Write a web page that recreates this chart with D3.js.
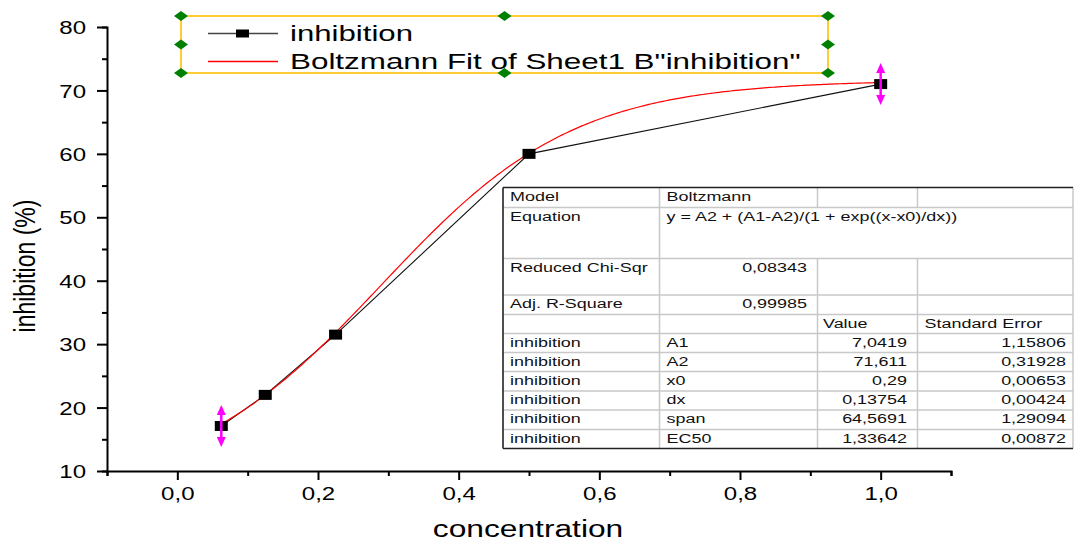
<!DOCTYPE html>
<html>
<head>
<meta charset="utf-8">
<script src="https://cdn.jsdelivr.net/npm/d3@7"></script>
<style>
  html, body { margin: 0; padding: 0; background: #fff; }
  svg { display: block; font-family: Arial, "Liberation Sans", sans-serif; }
</style>
</head>
<body>
<svg id="chart" width="1074" height="545"></svg>
<script>
// Measured data: inhibition (%) against concentration
const concentration = [0.0625, 0.125, 0.225, 0.5, 1.0];
const inhibition = [17.1, 22.0, 31.5, 60.0, 71.0];

// Boltzmann fit results
const paramNames = ["A1", "A2", "x0", "dx", "span", "EC50"];
const paramValues = [7.0419, 71.611, 0.29, 0.13754, 64.5691, 1.33642];
const paramErrors = [1.15806, 0.31928, 0.00653, 0.00424, 1.29094, 0.00872];
const reducedChiSqr = 0.08343;
const adjRSquare = 0.99985;
const modelName = "Boltzmann";
const equationText = "y = A2 + (A1-A2)/(1 + exp((x-x0)/dx))";

// Axis ticks
const xMajorTicks = [0.0, 0.2, 0.4, 0.6, 0.8, 1.0];
const xMinorTicks = [-0.1, 0.1, 0.3, 0.5, 0.7, 0.9, 1.1];
const yMajorTicks = [10, 20, 30, 40, 50, 60, 70, 80];
const yMinorTicks = [15, 25, 35, 45, 55, 65, 75];

const legendLabels = ["inhibition", "Boltzmann Fit of Sheet1 B\"inhibition\""];

const svg = d3.select("#chart");
const comma = d3.formatLocale({decimal: ",", thousands: ".", grouping: [3], currency: ["", ""]});
const fmt1 = comma.format(".1f");
const numText = v => String(v).replace(".", ",");

const x = d3.scaleLinear().domain([-0.1, 1.1]).range([107, 951]);
const y = d3.scaleLinear().domain([10, 80]).range([471, 27]);

// Text helper: glyphs are drawn slightly wide
function label(parent, px, py, str, o) {
  const t = parent.append("text")
    .attr("transform", `translate(${px},${py}) scale(${o.sx || 1},1)` + (o.rotate ? ` rotate(${o.rotate})` : ""))
    .attr("font-size", o.size)
    .attr("text-anchor", o.anchor || "start")
    .attr("fill", o.fill || "#000")
    .text(str);
  return t;
}

// ---- axes ----
const xAxisG = svg.append("g").attr("transform", `translate(0,${y(10)})`);
xAxisG.call(d3.axisBottom(x).tickValues(xMinorTicks).tickSize(5).tickFormat(""));
xAxisG.call(g => g.append("g").call(d3.axisBottom(x).tickValues(xMajorTicks).tickSize(9).tickFormat(fmt1)));
xAxisG.selectAll("path.domain").attr("stroke", "#000").attr("stroke-width", 2);
xAxisG.selectAll(".tick line").attr("stroke", "#000").attr("stroke-width", 2);
xAxisG.selectAll(".tick text")
  .attr("y", 29).attr("dy", null)
  .attr("font-size", 18.5).attr("fill", "#000")
  .attr("font-family", "Arial, 'Liberation Sans', sans-serif")
  .attr("transform", "scale(1.3,1)");

const yAxisG = svg.append("g").attr("transform", `translate(${x(-0.1)},0)`);
yAxisG.call(d3.axisLeft(y).tickValues(yMinorTicks).tickSize(5).tickFormat(""));
yAxisG.call(g => g.append("g").call(d3.axisLeft(y).tickValues(yMajorTicks).tickSize(10).tickFormat(d3.format("d"))));
yAxisG.selectAll("path.domain").attr("stroke", "#000").attr("stroke-width", 2);
yAxisG.selectAll(".tick line").attr("stroke", "#000").attr("stroke-width", 2);
yAxisG.selectAll(".tick text")
  .attr("x", -21 / 1.3).attr("dy", "0.36em")
  .attr("font-size", 18.5).attr("fill", "#000")
  .attr("font-family", "Arial, 'Liberation Sans', sans-serif")
  .attr("transform", "scale(1.3,1)");
svg.selectAll("path.domain").filter(function(){ return this.parentNode.parentNode !== svg.node(); }).remove();

// axis titles
label(svg, 528, 537, "concentration", {size: 23, sx: 1.38, anchor: "middle"});
label(svg, 35, 266, "inhibition (%)", {size: 23, sx: 1.3, anchor: "middle", rotate: -90});

// ---- data line ----
const pts = concentration.map((c, i) => [c, inhibition[i]]);
svg.append("path")
  .datum(pts)
  .attr("fill", "none").attr("stroke", "#111").attr("stroke-width", 1.1)
  .attr("d", d3.line().x(d => x(d[0])).y(d => y(d[1])));

// ---- Boltzmann fit curve ----
const [A1, A2, x0, dx] = paramValues;
const boltz = v => A2 + (A1 - A2) / (1 + Math.exp((v - x0) / dx));
const cMin = d3.min(concentration), cMax = d3.max(concentration);
const fitX = d3.range(cMin, cMax, 0.004).concat([cMax]);
svg.append("path")
  .datum(fitX)
  .attr("fill", "none").attr("stroke", "#ff0000").attr("stroke-width", 1.2)
  .attr("d", d3.line().x(d => x(d)).y(d => y(boltz(d))));

// ---- markers ----
svg.append("g").selectAll("rect").data(pts).join("rect")
  .attr("x", d => x(d[0]) - 6.5).attr("y", d => y(d[1]) - 5)
  .attr("width", 13).attr("height", 10).attr("fill", "#000");

// selection arrows on the first and last points
const ends = [pts[0], pts[pts.length - 1]];
const arrows = svg.append("g").attr("fill", "#ff00ff").attr("stroke", "#ff00ff");
ends.forEach(d => {
  const cx = x(d[0]), cy = y(d[1]);
  arrows.append("line").attr("x1", cx).attr("x2", cx).attr("y1", cy - 14).attr("y2", cy + 14).attr("stroke-width", 2.5);
  arrows.append("path").attr("stroke", "none")
    .attr("d", `M${cx},${cy - 21} L${cx - 4.5},${cy - 11} L${cx + 4.5},${cy - 11} Z`);
  arrows.append("path").attr("stroke", "none")
    .attr("d", `M${cx},${cy + 21} L${cx - 4.5},${cy + 11} L${cx + 4.5},${cy + 11} Z`);
});

// ---- legend ----
const lg = svg.append("g");
const lgBox = {x0: 181, x1: 828, y0: 16, y1: 73};
lg.append("rect")
  .attr("x", lgBox.x0).attr("y", lgBox.y0)
  .attr("width", lgBox.x1 - lgBox.x0).attr("height", lgBox.y1 - lgBox.y0)
  .attr("fill", "#fff").attr("stroke", "#ffcc33").attr("stroke-width", 2);
// entry 1: line + square
lg.append("line").attr("x1", 208).attr("x2", 278).attr("y1", 33.5).attr("y2", 33.5)
  .attr("stroke", "#444").attr("stroke-width", 1.3);
lg.append("rect").attr("x", 236).attr("y", 29.5).attr("width", 13).attr("height", 8).attr("fill", "#000");
label(lg, 290, 40.5, legendLabels[0], {size: 21.5, sx: 1.45});
// entry 2: red line
lg.append("line").attr("x1", 208).attr("x2", 278).attr("y1", 61.5).attr("y2", 61.5)
  .attr("stroke", "#ff0000").attr("stroke-width", 1.3);
label(lg, 290, 68.5, legendLabels[1], {size: 21.5, sx: 1.46});
// selection handles
const hx = [lgBox.x0, (lgBox.x0 + lgBox.x1) / 2, lgBox.x1];
const hy = [lgBox.y0, (lgBox.y0 + lgBox.y1) / 2, lgBox.y1];
const handles = [];
hx.forEach((a, i) => hy.forEach((b, j) => { if (!(i === 1 && j === 1)) handles.push([a, b]); }));
lg.append("g").selectAll("path").data(handles).join("path")
  .attr("d", d => `M${d[0] - 7},${d[1]} L${d[0]},${d[1] - 5} L${d[0] + 7},${d[1]} L${d[0]},${d[1] + 5} Z`)
  .attr("fill", "#008000");

// ---- fit results table ----
const tb = svg.append("g");
const colX = [503, 659.5, 817.5, 917.5, 1073];
const rowY = [187.5, 207.5, 258.5, 295, 314.5, 333.5, 352.5, 371.5, 391, 410, 429.5, 448.5];
tb.append("rect").attr("x", colX[0]).attr("y", rowY[0])
  .attr("width", colX[4] - colX[0]).attr("height", rowY[rowY.length - 1] - rowY[0])
  .attr("fill", "#fff");
const grid = tb.append("g").attr("stroke", "#c8c8c8").attr("stroke-width", 1.5);
rowY.slice(1, -1).forEach(r => grid.append("line").attr("x1", colX[0]).attr("x2", colX[4]).attr("y1", r).attr("y2", r));
grid.append("line").attr("x1", colX[1]).attr("x2", colX[1]).attr("y1", rowY[0]).attr("y2", rowY[rowY.length - 1]);
[colX[2], colX[3]].forEach(c => {
  grid.append("line").attr("x1", c).attr("x2", c).attr("y1", rowY[0]).attr("y2", rowY[1]);
  grid.append("line").attr("x1", c).attr("x2", c).attr("y1", rowY[2]).attr("y2", rowY[rowY.length - 1]);
});
grid.append("line").attr("x1", colX[4]).attr("x2", colX[4]).attr("y1", rowY[0]).attr("y2", rowY[rowY.length - 1]);
const border = tb.append("g").attr("stroke", "#222").attr("stroke-width", 1.6);
border.append("line").attr("x1", colX[0]).attr("x2", colX[4]).attr("y1", rowY[0]).attr("y2", rowY[0]);
border.append("line").attr("x1", colX[0]).attr("x2", colX[4]).attr("y1", rowY[rowY.length - 1]).attr("y2", rowY[rowY.length - 1]);
border.append("line").attr("x1", colX[0]).attr("x2", colX[0]).attr("y1", rowY[0]).attr("y2", rowY[rowY.length - 1]);

const tOpt = {size: 13.5, sx: 1.33, fill: "#111"};
const tOptR = Object.assign({}, tOpt, {anchor: "end"});
const base = r => rowY[r] + 13;
label(tb, colX[0] + 7, base(0), "Model", tOpt);
label(tb, colX[1] + 7, base(0), modelName, tOpt);
label(tb, colX[0] + 7, base(1), "Equation", tOpt);
label(tb, colX[1] + 7, base(1), equationText, tOpt);
label(tb, colX[0] + 7, base(2), "Reduced Chi-Sqr", tOpt);
label(tb, colX[2] - 10.5, base(2), numText(reducedChiSqr), tOptR);
label(tb, colX[0] + 7, base(3), "Adj. R-Square", tOpt);
label(tb, colX[2] - 10.5, base(3), numText(adjRSquare), tOptR);
label(tb, colX[2] + 5.5, base(4), "Value", tOpt);
label(tb, colX[3] + 7, base(4), "Standard Error", tOpt);
paramNames.forEach((p, i) => {
  const r = 5 + i;
  label(tb, colX[0] + 7, base(r), "inhibition", tOpt);
  label(tb, colX[1] + 7, base(r), p, tOpt);
  label(tb, colX[3] - 10.5, base(r), numText(paramValues[i]), tOptR);
  label(tb, colX[4] - 7, base(r), numText(paramErrors[i]), tOptR);
});
</script>
</body>
</html>
